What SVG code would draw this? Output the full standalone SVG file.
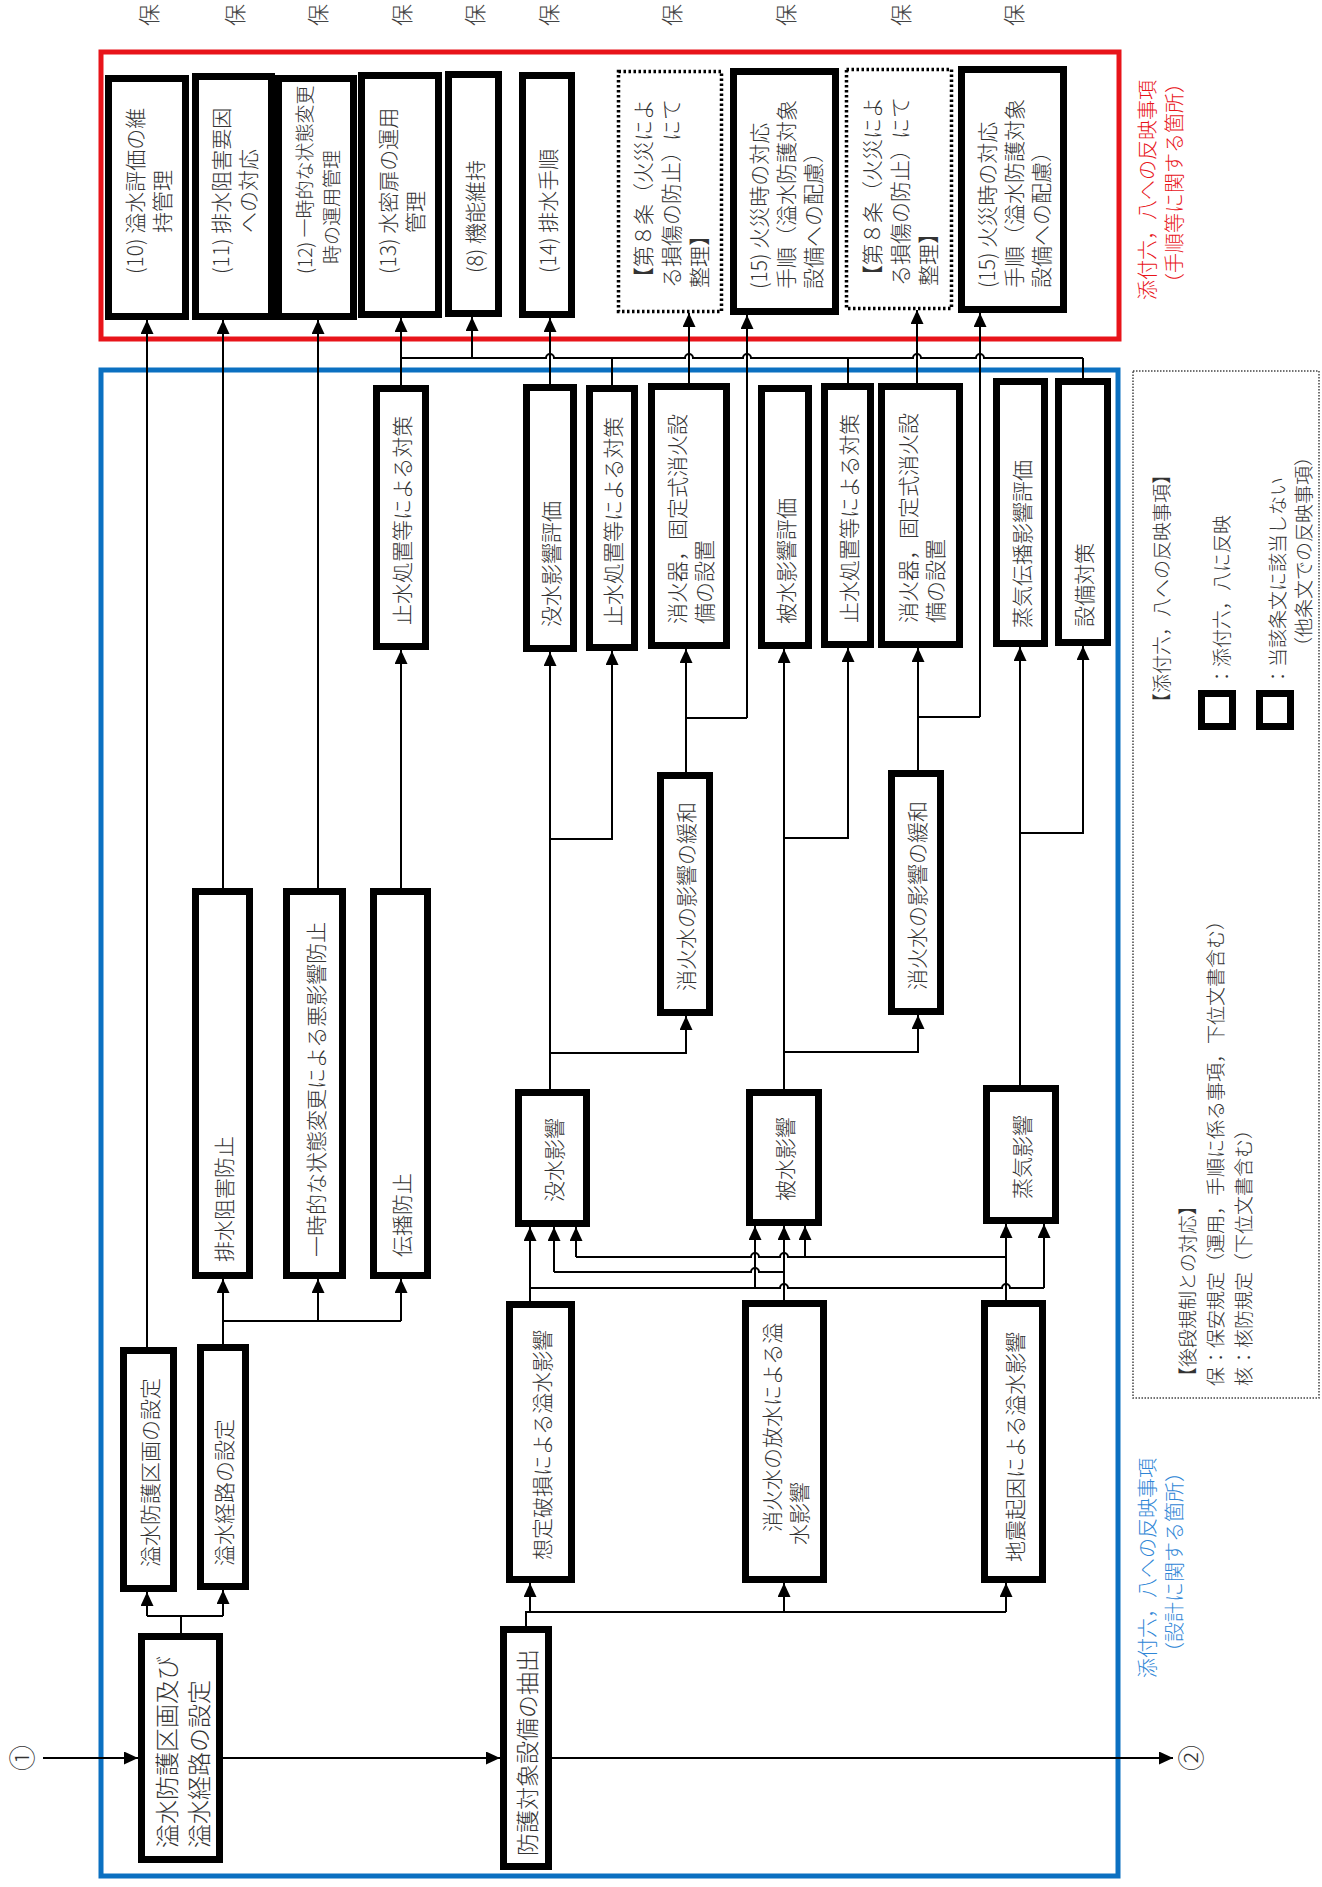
<svg xmlns="http://www.w3.org/2000/svg" width="1322" height="1887" viewBox="0 0 1322 1887">
<defs>
<marker id="ah" viewBox="0 0 14 13" refX="14" refY="6.5" markerWidth="14" markerHeight="13" markerUnits="userSpaceOnUse" orient="auto"><path d="M0,0 L14,6.5 L0,13 Z" fill="#000"/></marker>
<style>
.bx{fill:#fff;stroke:#000;stroke-width:7}
.dt{fill:#fff;stroke:#000;stroke-width:3.5;stroke-dasharray:2.5 2.5}
.ln{fill:none;stroke:#000;stroke-width:2}
.ar{marker-end:url(#ah)}
.t{font-family:"Noto Sans CJK JP","Noto Sans CJK SC",sans-serif;font-size:21px;font-weight:300;fill:#333;dominant-baseline:central}
.c{text-anchor:middle}
.ho{font-size:22px;fill:#444}
.lg{font-size:19px}
.red{fill:#e8141a;font-size:20px}
.blu{fill:#2f86d6;font-size:20px}
</style>
</defs>
<rect width="1322" height="1887" fill="#fff"/>
<g id="frames">
<rect x="101" y="52" width="1018" height="287" fill="none" stroke="#e8141a" stroke-width="5"/>
<rect x="101" y="370" width="1017" height="1506" fill="none" stroke="#0b70c1" stroke-width="5"/>
<text class="t red" transform="translate(1146,300) rotate(-90)">添付六，八への反映事項</text>
<text class="t red" transform="translate(1173,293) rotate(-90)">（手順等に関する箇所）</text>
<text class="t blu" transform="translate(1146,1678) rotate(-90)">添付六，八への反映事項</text>
<text class="t blu" transform="translate(1173,1662) rotate(-90)">（設計に関する箇所）</text>
</g>
<g id="hoan-labels">
<text class="t c ho" transform="translate(147,15) rotate(-90)">保</text>
<text class="t c ho" transform="translate(233,15) rotate(-90)">保</text>
<text class="t c ho" transform="translate(316,15) rotate(-90)">保</text>
<text class="t c ho" transform="translate(400,15) rotate(-90)">保</text>
<text class="t c ho" transform="translate(473,15) rotate(-90)">保</text>
<text class="t c ho" transform="translate(547,15) rotate(-90)">保</text>
<text class="t c ho" transform="translate(670,15) rotate(-90)">保</text>
<text class="t c ho" transform="translate(784,15) rotate(-90)">保</text>
<text class="t c ho" transform="translate(899,15) rotate(-90)">保</text>
<text class="t c ho" transform="translate(1012,15) rotate(-90)">保</text>
</g>
<g id="legend">
<rect x="1133" y="371" width="186" height="1027" fill="none" stroke="#444" stroke-width="1.5" stroke-dasharray="1.5 1.5"/>
<text class="t lg" transform="translate(1160,712) rotate(-90)">【添付六，八への反映事項】</text>
<rect class="bx" x="1201.5" y="693.5" width="31" height="33"/>
<text class="t lg" transform="translate(1220,686) rotate(-90)">：添付六，八に反映</text>
<rect class="bx" x="1259.5" y="693.5" width="31" height="33"/>
<text class="t lg" transform="translate(1276,686) rotate(-90)">：当該条文に該当しない</text>
<text class="t lg" transform="translate(1302,656) rotate(-90)">（他条文での反映事項）</text>
<text class="t lg" transform="translate(1186,1386) rotate(-90)">【後段規制との対応】</text>
<text class="t lg" transform="translate(1214,1386) rotate(-90)">保：保安規定（運用，手順に係る事項，下位文書含む）</text>
<text class="t lg" transform="translate(1242,1386) rotate(-90)">核：核防規定（下位文書含む）</text>
</g>
<g id="connectors">
<path class="ln ar" d="M43,1758H138"/>
<path class="ln ar" d="M223,1758H500"/>
<path class="ln ar" d="M552,1758H1173"/>
<path class="ln" d="M181,1633V1616M147,1616H223"/>
<path class="ln ar" d="M147,1616V1592"/>
<path class="ln ar" d="M223,1616V1590"/>
<path class="ln ar" d="M147,1347V320"/>
<path class="ln ar" d="M223,1344V1279"/>
<path class="ln" d="M223,1321H401"/>
<path class="ln ar" d="M318,1321V1279"/>
<path class="ln ar" d="M401,1321V1279"/>
<path class="ln ar" d="M223,888V320"/>
<path class="ln ar" d="M318,888V320"/>
<path class="ln ar" d="M401,888V650"/>
<path class="ln ar" d="M401,385V318"/>
<path class="ln" d="M401,358H546a4,4 0 0 1 8,0H685a4,4 0 0 1 8,0H743a4,4 0 0 1 8,0H913a4,4 0 0 1 8,0H976a4,4 0 0 1 8,0H1083"/>
<path class="ln ar" d="M472,358V317"/>
<path class="ln" d="M612,358V385M848,358V383M1083,358V378"/>
<path class="ln ar" d="M550,384V318"/>
<path class="ln ar" d="M689,383V313"/>
<path class="ln ar" d="M917,383V310"/>
<path class="ln" d="M686,718H747"/>
<path class="ln ar" d="M747,718V315"/>
<path class="ln" d="M918,717H980"/>
<path class="ln ar" d="M980,717V313"/>
<path class="ln ar" d="M550,1089V652"/>
<path class="ln ar" d="M550,839H612V651"/>
<path class="ln ar" d="M550,1053H686V1016"/>
<path class="ln ar" d="M686,772V649"/>
<path class="ln ar" d="M784,1089V649"/>
<path class="ln ar" d="M784,838H848V648"/>
<path class="ln ar" d="M784,1052H918V1015"/>
<path class="ln ar" d="M918,770V648"/>
<path class="ln ar" d="M1020,1085V647"/>
<path class="ln ar" d="M1020,833H1083V646"/>
<path class="ln" d="M526,1626V1612H1006"/>
<path class="ln ar" d="M530,1612V1583"/>
<path class="ln ar" d="M784,1612V1583"/>
<path class="ln ar" d="M1006,1612V1583"/>
<path class="ln ar" d="M530,1301V1227"/>
<path class="ln" d="M530,1288H780a4,4 0 0 1 8,0H1002a4,4 0 0 1 8,0H1044"/>
<path class="ln ar" d="M1044,1288V1224"/>
<path class="ln ar" d="M755,1288V1226"/>
<path class="ln ar" d="M784,1300V1226"/>
<path class="ln" d="M554,1272H751a4,4 0 0 1 8,0H784"/>
<path class="ln ar" d="M554,1272V1227"/>
<path class="ln ar" d="M1006,1300V1224"/>
<path class="ln" d="M576,1257H751a4,4 0 0 1 8,0H780a4,4 0 0 1 8,0H1006"/>
<path class="ln ar" d="M576,1257V1227"/>
<path class="ln ar" d="M805,1257V1226"/>
</g>
<g id="terminals">
<text class="t c" style="font-size:26px" transform="translate(20,1758) rotate(-90)">①</text>
<text class="t c" style="font-size:26px" transform="translate(1189,1758) rotate(-90)">②</text>
</g>
<g id="n10"><rect class="bx" x="108.5" y="78.5" width="77" height="238"/><text class="t" transform="translate(147,274) rotate(-90)"><tspan x="0" y="-13.5">(10) 溢水評価の維</tspan><tspan x="41" y="13.5">持管理</tspan></text></g>
<g id="n11"><rect class="bx" x="195.5" y="76.5" width="76" height="240"/><text class="t" transform="translate(233,274) rotate(-90)"><tspan x="0" y="-13.5">(11) 排水阻害要因</tspan><tspan x="41" y="13.5">への対応</tspan></text></g>
<g id="n12"><rect class="bx" x="278.5" y="78.5" width="75" height="238"/><text class="t" style="font-size:19px" transform="translate(316,274) rotate(-90)"><tspan x="0" y="-13.5">(12) 一時的な状態変更</tspan><tspan x="10" y="13.5">時の運用管理</tspan></text></g>
<g id="n13"><rect class="bx" x="361.5" y="75.5" width="77" height="239"/><text class="t" transform="translate(400,274) rotate(-90)"><tspan x="0" y="-13.5">(13) 水密扉の運用</tspan><tspan x="41" y="13.5">管理</tspan></text></g>
<g id="n8"><rect class="bx" x="448.5" y="74.5" width="50" height="239"/><text class="t" transform="translate(473.5,273) rotate(-90)">(8) 機能維持</text></g>
<g id="n14"><rect class="bx" x="522.5" y="75.5" width="49" height="239"/><text class="t" transform="translate(547,273) rotate(-90)">(14) 排水手順</text></g>
<g id="d8a"><rect class="dt" x="618.5" y="71.5" width="103" height="240"/><text class="t" transform="translate(670,288) rotate(-90)"><tspan x="0" y="-28">【第８条（火災によ</tspan><tspan x="0" y="0">る損傷の防止）にて</tspan><tspan x="0" y="28">整理】</tspan></text></g>
<g id="n15a"><rect class="bx" x="733.5" y="71.5" width="102" height="240"/><text class="t" transform="translate(785,289) rotate(-90)"><tspan x="0" y="-27">(15) 火災時の対応</tspan><tspan x="0" y="0">手順（溢水防護対象</tspan><tspan x="0" y="27">設備への配慮）</tspan></text></g>
<g id="d8b"><rect class="dt" x="846.5" y="69.5" width="105" height="239"/><text class="t" transform="translate(899,286) rotate(-90)"><tspan x="0" y="-28">【第８条（火災によ</tspan><tspan x="0" y="0">る損傷の防止）にて</tspan><tspan x="0" y="28">整理】</tspan></text></g>
<g id="n15b"><rect class="bx" x="961.5" y="69.5" width="102" height="240"/><text class="t" transform="translate(1013,288) rotate(-90)"><tspan x="0" y="-27">(15) 火災時の対応</tspan><tspan x="0" y="0">手順（溢水防護対象</tspan><tspan x="0" y="27">設備への配慮）</tspan></text></g>
<g id="b-shisui1"><rect class="bx" x="376.5" y="388.5" width="49" height="258"/><text class="t" transform="translate(401,625) rotate(-90)">止水処置等による対策</text></g>
<g id="b-botsu-eval"><rect class="bx" x="526.5" y="387.5" width="47" height="261"/><text class="t" transform="translate(550,627) rotate(-90)">没水影響評価</text></g>
<g id="b-shisui2"><rect class="bx" x="589.5" y="388.5" width="45" height="259"/><text class="t" transform="translate(612,626) rotate(-90)">止水処置等による対策</text></g>
<g id="b-shoka1"><rect class="bx" x="651.5" y="386.5" width="75" height="259"/><text class="t" transform="translate(689,624) rotate(-90)"><tspan x="0" y="-13.5">消火器，固定式消火設</tspan><tspan x="0" y="13.5">備の設置</tspan></text></g>
<g id="b-hisui-eval"><rect class="bx" x="761.5" y="388.5" width="47" height="257"/><text class="t" transform="translate(785,624) rotate(-90)">被水影響評価</text></g>
<g id="b-shisui3"><rect class="bx" x="824.5" y="386.5" width="46" height="258"/><text class="t" transform="translate(847.5,623) rotate(-90)">止水処置等による対策</text></g>
<g id="b-shoka2"><rect class="bx" x="881.5" y="386.5" width="78" height="258"/><text class="t" transform="translate(920.5,623) rotate(-90)"><tspan x="0" y="-13.5">消火器，固定式消火設</tspan><tspan x="0" y="13.5">備の設置</tspan></text></g>
<g id="b-joki-eval"><rect class="bx" x="996.5" y="381.5" width="48" height="262"/><text class="t" transform="translate(1020.5,628) rotate(-90)">蒸気伝播影響評価</text></g>
<g id="b-setsubi"><rect class="bx" x="1058.5" y="381.5" width="49" height="261"/><text class="t" transform="translate(1083,627) rotate(-90)">設備対策</text></g>
<g id="b-kanwa1"><rect class="bx" x="660.5" y="775.5" width="49" height="237"/><text class="t" transform="translate(685,991) rotate(-90)">消火水の影響の緩和</text></g>
<g id="b-kanwa2"><rect class="bx" x="891.5" y="773.5" width="49" height="238"/><text class="t" transform="translate(916,990) rotate(-90)">消火水の影響の緩和</text></g>
<g id="b-haisui"><rect class="bx" x="195.5" y="891.5" width="54" height="384"/><text class="t" transform="translate(222.5,1262) rotate(-90)">排水阻害防止</text></g>
<g id="b-ichiji"><rect class="bx" x="286.5" y="891.5" width="56" height="384"/><text class="t" transform="translate(314.5,1257) rotate(-90)">一時的な状態変更による悪影響防止</text></g>
<g id="b-denpa"><rect class="bx" x="373.5" y="891.5" width="54" height="384"/><text class="t" transform="translate(400.5,1257) rotate(-90)">伝播防止</text></g>
<g id="b-botsu"><rect class="bx" x="518.5" y="1092.5" width="68" height="131"/><text class="t" transform="translate(552.5,1202) rotate(-90)">没水影響</text></g>
<g id="b-hisui"><rect class="bx" x="749.5" y="1092.5" width="69" height="130"/><text class="t" transform="translate(784,1201) rotate(-90)">被水影響</text></g>
<g id="b-joki"><rect class="bx" x="986.5" y="1088.5" width="69" height="132"/><text class="t" transform="translate(1021,1199) rotate(-90)">蒸気影響</text></g>
<g id="b-hason"><rect class="bx" x="509.5" y="1304.5" width="62" height="275"/><text class="t" transform="translate(540.5,1560) rotate(-90)">想定破損による溢水影響</text></g>
<g id="b-shokasui"><rect class="bx" x="745.5" y="1303.5" width="78" height="276"/><text class="t" transform="translate(784.5,1545) rotate(-90)"><tspan x="13" y="-13.5">消火水の放水による溢</tspan><tspan x="0" y="13.5">水影響</tspan></text></g>
<g id="b-jishin"><rect class="bx" x="984.5" y="1303.5" width="58" height="276"/><text class="t" transform="translate(1013.5,1562) rotate(-90)">地震起因による溢水影響</text></g>
<g id="b-kukaku"><rect class="bx" x="123.5" y="1350.5" width="50" height="238"/><text class="t" transform="translate(148.5,1567) rotate(-90)">溢水防護区画の設定</text></g>
<g id="b-keiro"><rect class="bx" x="200.5" y="1347.5" width="45" height="239"/><text class="t" transform="translate(223,1566) rotate(-90)">溢水経路の設定</text></g>
<g id="b-settei"><rect class="bx" x="141.5" y="1636.5" width="78" height="223"/><text class="t" style="font-size:24px" transform="translate(180.5,1848) rotate(-90)"><tspan x="0" y="-16">溢水防護区画及び</tspan><tspan x="0" y="16">溢水経路の設定</tspan></text></g>
<g id="b-chushutsu"><rect class="bx" x="503.5" y="1629.5" width="45" height="237"/><text class="t" style="font-size:23px" transform="translate(526,1856) rotate(-90)">防護対象設備の抽出</text></g>
</svg>
